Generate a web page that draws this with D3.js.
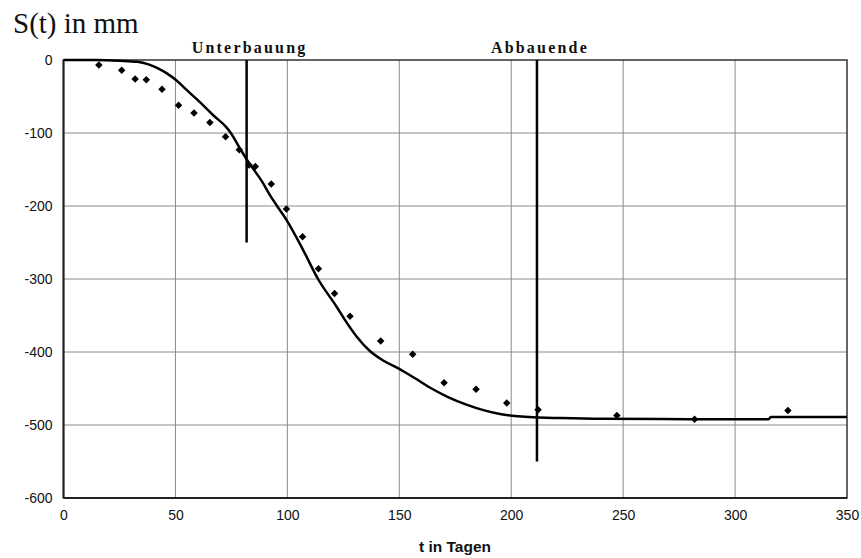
<!DOCTYPE html>
<html><head><meta charset="utf-8">
<script src="https://cdn.jsdelivr.net/npm/d3@7"></script>
<style>body{margin:0;background:#fff}svg{display:block}</style>
</head><body>
<svg id="c" width="861" height="558"></svg>
<script>
// measured points (t in days, S in mm)
const measT = [15.8,26,32,37,44,51.4,58.3,65.4,72.4,78.5,82.9,85.7,92.8,99.6,106.8,113.9,121.1,128,141.7,156,170,184.3,198,212,247.2,281.9,323.6];
const measS = [-7,-14,-26,-27,-40,-62,-72.5,-85.5,-105,-123,-144,-146,-170,-204,-242,-286,-320,-351,-385,-403,-442,-451,-470,-479,-487,-492,-480];
// fitted curve
const curveT = [0,15,25,33,38,42,46,50.5,55,60,67,73,74.5,79,82,89,92,95.4,99.6,107,113.7,122,125.7,131,137,143,150,157,165,172,180,188,195,203,210,222,240,280,315,316,350];
const curveS = [0,0,-1,-2.5,-6,-11,-18,-28,-41,-55,-76,-93,-99,-122,-137,-168,-184,-200,-219,-260,-300,-338,-356,-379,-399,-412,-423,-436,-451,-462,-472,-480,-485,-488,-489.5,-490.5,-491.5,-492,-492,-489,-489];
// event markers
const eventNames = ["Unterbauung","Abbauende"];
const eventT = [81.8,211.5];
const eventBottom = [-250,-550];
const xTicks = [0,50,100,150,200,250,300,350];
const yTicks = [0,-100,-200,-300,-400,-500,-600];

const svg = d3.select("#c");
const L=63.5, R=847, T=60, B=498;
const x = d3.scaleLinear().domain([0,350]).range([L,R]);
const y = d3.scaleLinear().domain([-600,0]).range([B,T]);

// grid
svg.append("g").selectAll("line").data(xTicks.slice(1,-1)).join("line")
  .attr("x1",d=>x(d)).attr("x2",d=>x(d)).attr("y1",T).attr("y2",B)
  .attr("stroke","#8a8a8a").attr("stroke-width",1);
svg.append("g").selectAll("line").data(yTicks.slice(1,-1)).join("line")
  .attr("x1",L).attr("x2",R).attr("y1",d=>y(d)).attr("y2",d=>y(d))
  .attr("stroke","#8a8a8a").attr("stroke-width",1);

// frame
svg.append("rect").attr("x",L).attr("y",T).attr("width",R-L).attr("height",B-T)
  .attr("fill","none").attr("stroke","#333").attr("stroke-width",1.5);
svg.append("line").attr("x1",L).attr("x2",L).attr("y1",T).attr("y2",B).attr("stroke","#222").attr("stroke-width",2);
svg.append("line").attr("x1",L).attr("x2",R).attr("y1",B).attr("y2",B).attr("stroke","#222").attr("stroke-width",2);

// axes labels via d3 axes
const xAxis = svg.append("g").attr("transform",`translate(0,${B})`)
  .call(d3.axisBottom(x).tickValues(xTicks).tickSize(0).tickPadding(12).tickFormat(d3.format("d")));
const yAxis = svg.append("g").attr("transform",`translate(${L},0)`)
  .call(d3.axisLeft(y).tickValues(yTicks).tickSize(0).tickPadding(11).tickFormat(d=>d===0?"0":String(d)));
[xAxis,yAxis].forEach(a=>{
  a.select(".domain").remove();
  a.selectAll("text").attr("font-family","Liberation Sans, Arial, sans-serif").attr("font-size",14).attr("fill","#111");
});

// curve
const line = d3.line().x((d,i)=>x(curveT[i])).y((d,i)=>y(curveS[i])).curve(d3.curveMonotoneX);
svg.append("path").datum(curveT).attr("d",line).attr("fill","none")
  .attr("stroke","#000").attr("stroke-width",2.5).attr("stroke-linejoin","round");

// event lines
svg.append("g").selectAll("line").data(eventT).join("line")
  .attr("x1",d=>x(d)).attr("x2",d=>x(d)).attr("y1",y(0)).attr("y2",(d,i)=>y(eventBottom[i]))
  .attr("stroke","#000").attr("stroke-width",2.5);
svg.append("g").selectAll("text").data(eventNames).join("text")
  .attr("x",(d,i)=>x(eventT[i])+3).attr("y",53).attr("text-anchor","middle")
  .attr("font-family","Liberation Serif, Times New Roman, serif").attr("font-weight","bold")
  .attr("font-size",16).attr("letter-spacing",2.2).attr("fill","#111").text(d=>d);

// points
const sym = d3.symbol().type(d3.symbolSquare).size(28);
svg.append("g").selectAll("path").data(measT).join("path")
  .attr("d",sym).attr("fill","#000")
  .attr("transform",(d,i)=>`translate(${x(d)},${y(measS[i])}) rotate(45)`);

// titles
svg.append("text").attr("x",13).attr("y",33).attr("font-family","Liberation Serif, Times New Roman, serif")
  .attr("font-size",29).attr("fill","#111").text("S(t) in mm");
svg.append("text").attr("x",455).attr("y",552).attr("text-anchor","middle")
  .attr("font-family","Liberation Sans, Arial, sans-serif").attr("font-weight","bold")
  .attr("font-size",15.5).attr("fill","#111").text("t in Tagen");
</script>
</body></html>
